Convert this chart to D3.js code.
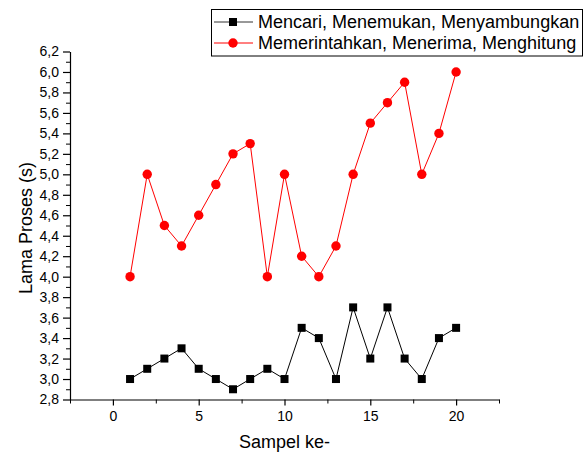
<!DOCTYPE html>
<html>
<head>
<meta charset="utf-8">
<script src="https://cdn.jsdelivr.net/npm/d3@7"></script>
<style>
  html, body { margin: 0; padding: 0; background: #fff; }
  svg { display: block; font-family: "Liberation Sans", Arial, sans-serif; }
</style>
</head>
<body>
<svg id="chart" width="584" height="452"></svg>
<script>
// Sample index (Sampel ke-)
const samples = d3.range(1, 21);
// Processing time (s) for each command group
const seriesNames = [
  "Mencari, Menemukan, Menyambungkan",
  "Memerintahkan, Menerima, Menghitung"
];
const searchTimes = [3.0, 3.1, 3.2, 3.3, 3.1, 3.0, 2.9, 3.0, 3.1, 3.0,
                     3.5, 3.4, 3.0, 3.7, 3.2, 3.7, 3.2, 3.0, 3.4, 3.5];
const commandTimes = [4.0, 5.0, 4.5, 4.3, 4.6, 4.9, 5.2, 5.3, 4.0, 5.0,
                      4.2, 4.0, 4.3, 5.0, 5.5, 5.7, 5.9, 5.0, 5.4, 6.0];
const xTicks = [0, 5, 10, 15, 20];
const yTicks = d3.range(2.8, 6.21, 0.2).map(v => +v.toFixed(1));

const svg = d3.select("#chart");
const x = d3.scaleLinear().domain([-2.5, 22.5]).range([70, 499]);
const y = d3.scaleLinear().domain([2.8, 6.2]).range([399.5, 51.5]);
const comma = v => d3.format(".1f")(v).replace(".", ",");

// minor ticks
svg.append("g").attr("transform", "translate(0,399.5)")
  .call(d3.axisBottom(x).tickValues(d3.range(-2.5, 22.6, 2.5).filter(v => v % 5 !== 0)).tickSize(4).tickFormat(""))
  .call(g => g.select(".domain").remove());
svg.append("g").attr("transform", "translate(70,0)")
  .call(d3.axisLeft(y).tickValues(d3.range(2.9, 6.2, 0.2).map(v => +v.toFixed(1))).tickSize(4).tickFormat(""))
  .call(g => g.select(".domain").remove());

// major axes
const xAxis = svg.append("g").attr("transform", "translate(0,399.5)")
  .call(d3.axisBottom(x).tickValues(xTicks).tickSize(6).tickPadding(6).tickSizeOuter(0));
const yAxis = svg.append("g").attr("transform", "translate(70,0)")
  .call(d3.axisLeft(y).tickValues(yTicks).tickFormat(comma).tickSize(7).tickPadding(4).tickSizeOuter(0));
[xAxis, yAxis].forEach(g => {
  g.selectAll("text").attr("font-size", 14).attr("font-family", "Liberation Sans, Arial, sans-serif").attr("fill", "#000");
  g.selectAll("line, path").attr("stroke", "#000").attr("stroke-width", 1.2);
});

// axis titles
svg.append("text").attr("x", 284.5).attr("y", 448).attr("text-anchor", "middle")
  .attr("font-size", 18).text("Sampel ke-");
svg.append("text").attr("transform", "translate(32,228) rotate(-90)").attr("text-anchor", "middle")
  .attr("font-size", 18).text("Lama Proses (s)");

const line = d3.line().x((d, i) => x(samples[i])).y(d => y(d));

// red series
svg.append("path").datum(commandTimes).attr("d", line)
  .attr("fill", "none").attr("stroke", "#ff0000").attr("stroke-width", 1);
svg.append("g").selectAll("circle").data(commandTimes).join("circle")
  .attr("cx", (d, i) => x(samples[i])).attr("cy", d => y(d)).attr("r", 4.7).attr("fill", "#ff0000");

// black series
svg.append("path").datum(searchTimes).attr("d", line)
  .attr("fill", "none").attr("stroke", "#000").attr("stroke-width", 1);
svg.append("g").selectAll("rect").data(searchTimes).join("rect")
  .attr("x", (d, i) => x(samples[i]) - 4).attr("y", d => y(d) - 4)
  .attr("width", 8).attr("height", 8).attr("fill", "#000");

// legend
const legend = svg.append("g");
legend.append("rect").attr("x", 211.5).attr("y", 9.5).attr("width", 371).attr("height", 46.5)
  .attr("fill", "#fff").attr("stroke", "#000").attr("stroke-width", 1);
const rows = [
  { name: seriesNames[0], color: "#000", shape: "square", cy: 22 },
  { name: seriesNames[1], color: "#ff0000", shape: "circle", cy: 43 }
];
rows.forEach(r => {
  legend.append("line").attr("x1", 214).attr("x2", 253).attr("y1", r.cy).attr("y2", r.cy)
    .attr("stroke", r.color === "#000" ? "#333" : r.color).attr("stroke-width", 1);
  if (r.shape === "square") {
    legend.append("rect").attr("x", 229).attr("y", r.cy - 4).attr("width", 8).attr("height", 8).attr("fill", r.color);
  } else {
    legend.append("circle").attr("cx", 233).attr("cy", r.cy).attr("r", 4.7).attr("fill", r.color);
  }
  legend.append("text").attr("x", 258).attr("y", r.cy).attr("dy", "0.35em")
    .attr("font-size", 18).text(r.name);
});
</script>
</body>
</html>
